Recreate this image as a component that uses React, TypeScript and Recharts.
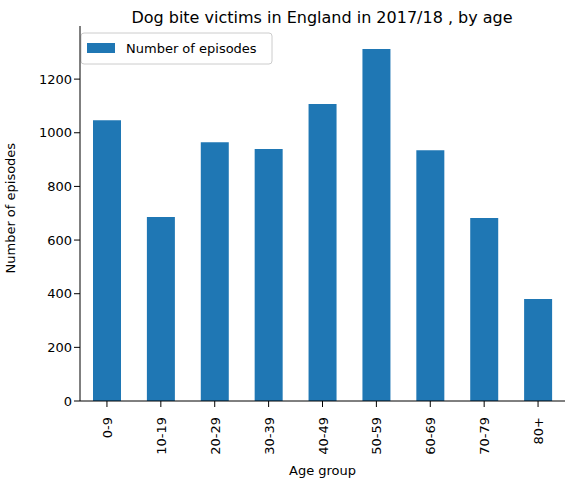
import { BarChart, Bar, XAxis, YAxis } from "recharts";

const ageGroups = ["0-9", "10-19", "20-29", "30-39", "40-49", "50-59", "60-69", "70-79", "80+"];
const episodes = [1047, 686, 965, 939, 1107, 1312, 935, 682, 380];
const yTicks = [0, 200, 400, 600, 800, 1000, 1200];

const data = ageGroups.map((g, i) => ({ group: g, episodes: episodes[i] }));

const font = "DejaVu Sans, sans-serif";

const RotTick = (props: any) => {
  const { x, y, payload } = props;
  return (
    <g transform={`translate(${x},${y + 8})`}>
      <text transform="rotate(-90)" textAnchor="end" dy={5} fontSize={13} fill="#000" fontFamily={font}>
        {payload.value}
      </text>
    </g>
  );
};

export default function App() {
  return (
    <div style={{ position: "absolute", left: 0, top: 0, width: 580, height: 481, background: "#fff" }}>
      <BarChart width={580} height={481} data={data} margin={{ top: 26, right: 15, left: 0, bottom: 0 }} barSize={28}>
        <text x={322} y={23} textAnchor="middle" fontSize={16} fontFamily={font} fill="#000">
          Dog bite victims in England in 2017/18 , by age
        </text>
        <XAxis dataKey="group" height={80} tick={<RotTick />} tickLine={{ stroke: "#000" }} axisLine={{ stroke: "#000" }}
          interval={0} label={{ value: "Age group", position: "insideBottom", offset: 6, fontSize: 13, fill: "#000", fontFamily: font }} />
        <XAxis xAxisId="top" orientation="top" dataKey="group" height={0} tick={false} tickLine={false} axisLine={{ stroke: "#000" }} />
        <YAxis width={80} domain={[0, 1398]} ticks={yTicks} allowDataOverflow tick={{ fontSize: 13, fill: "#000", fontFamily: font }}
          tickLine={{ stroke: "#000" }} axisLine={{ stroke: "#000" }}
          label={{ value: "Number of episodes", angle: -90, position: "insideLeft", offset: 10, dy: 60, fontSize: 13, fill: "#000", fontFamily: font }} />
        <YAxis yAxisId="right" orientation="right" width={0} tick={false} tickLine={false} axisLine={{ stroke: "#000" }} />
        <Bar dataKey="episodes" fill="#1f77b4" isAnimationActive={false} />
        <g>
          <rect x={81} y={33} width={191} height={31} fill="#fff" stroke="#ccc" rx={3} />
          <rect x={87} y={43} width={28} height={10} fill="#1f77b4" />
          <text x={126} y={53} fontSize={13} fontFamily={font} fill="#000">Number of episodes</text>
        </g>
      </BarChart>
    </div>
  );
}
